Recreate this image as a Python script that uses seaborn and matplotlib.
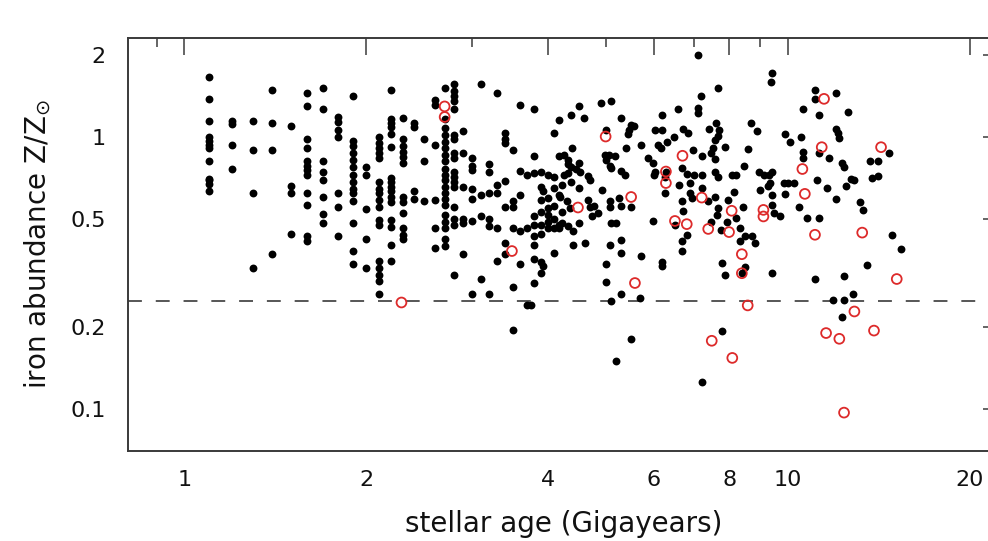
import matplotlib
matplotlib.use("Agg")
import matplotlib.pyplot as plt
import pandas as pd
import seaborn as sns
from matplotlib.ticker import FixedLocator, FixedFormatter, NullFormatter

# Young stars sit on a 0.1 Gyr age grid: one list of iron abundances per grid age
col_age = [1.1, 1.2, 1.3, 1.4, 1.5, 1.6, 1.7, 1.8, 1.9, 2.0,
           2.1, 2.2, 2.3, 2.4, 2.5, 2.6, 2.7, 2.8, 2.9]
col_z = [
    [1.66, 1.37, 1.14, 1.00, 0.965, 0.93, 0.91, 0.81, 0.70, 0.69, 0.67, 0.63],
    [1.14, 1.11, 0.93, 0.76],
    [1.14, 0.89, 0.62, 0.33],
    [1.48, 1.12, 0.89, 0.37],
    [1.09, 0.66, 0.62, 0.44],
    [1.45, 1.29, 0.98, 0.91, 0.81, 0.78, 0.755, 0.72, 0.62, 0.56, 0.43, 0.415],
    [1.51, 1.26, 0.81, 0.74, 0.69, 0.60, 0.52, 0.48],
    [1.18, 1.13, 1.06, 1.00, 0.62, 0.55, 0.43],
    [1.41, 0.96, 0.92, 0.87, 0.82, 0.77, 0.72, 0.68, 0.64, 0.62, 0.58, 0.48, 0.38, 0.34],
    [0.775, 0.72, 0.54, 0.42, 0.33],
    [1.00, 0.95, 0.91, 0.87, 0.835, 0.68, 0.64, 0.62, 0.585, 0.55, 0.495, 0.475,
     0.35, 0.33, 0.31, 0.295, 0.265],
    [1.48, 1.16, 1.12, 1.085, 1.02, 0.915, 0.705, 0.68, 0.655, 0.63, 0.60, 0.575,
     0.495, 0.465, 0.40, 0.35],
    [1.17, 0.98, 0.925, 0.88, 0.84, 0.80, 0.60, 0.575, 0.525, 0.46, 0.435, 0.42],
    [1.12, 1.085, 0.63, 0.59],
    [0.98, 0.815, 0.58],
    [1.36, 1.31, 0.93, 0.585, 0.46, 0.39],
    [1.51, 1.16, 1.075, 1.015, 0.955, 0.91, 0.855, 0.81, 0.76, 0.72, 0.69, 0.655,
     0.62, 0.59, 0.56, 0.515, 0.485, 0.46, 0.42, 0.395],
    [1.56, 1.47, 1.41, 1.35, 1.26, 1.015, 0.98, 0.87, 0.835, 0.74, 0.71, 0.68,
     0.655, 0.55, 0.50, 0.475, 0.31],
    [1.05, 0.87, 0.655, 0.50, 0.48, 0.37],
]

# Older stars (filled symbols): ages in Gyr and iron abundance Z/Zsun
old_age = [
    3.0, 3.0, 3.0, 3.0, 3.0, 3.0, 3.0, 3.1, 3.1, 3.1, 3.1, 3.2, 3.2, 3.2, 3.2, 3.2, 3.2,
    3.3, 3.3, 3.3, 3.3, 3.3, 3.4, 3.4, 3.4, 3.4, 3.4, 3.4, 3.4, 3.5, 3.5, 3.5, 3.5, 3.5, 3.5,
    3.6, 3.6, 3.6, 3.6, 3.6, 3.7, 3.7, 3.7, 3.76, 3.8, 3.8, 3.8, 3.8, 3.8, 3.8, 3.8, 3.8, 3.8,
    3.9, 3.9, 3.9, 3.9, 3.9, 3.9, 3.9, 3.9, 3.93, 3.93, 4.0, 4.0, 4.0, 4.0, 4.0, 4.0,
    4.1, 4.1, 4.1, 4.1, 4.1, 4.1, 4.1, 4.17, 4.17, 4.17, 4.17, 4.17, 4.2, 4.22, 4.22, 4.22, 4.26,
    4.25, 4.3, 4.32, 4.33, 4.33, 4.33, 4.35, 4.37, 4.38, 4.38, 4.39, 4.41, 4.41, 4.46, 4.5, 4.5, 4.5, 4.5, 4.52,
    4.6, 4.61, 4.66, 4.67, 4.7, 4.7, 4.73, 4.78, 4.85, 4.9, 4.92,
    4.99, 5.09, 5.29, 5.5, 5.55, 5.45, 5.44, 5.7, 5.39, 4.98, 5.06, 5.17, 5.0, 5.07, 5.1, 5.3, 5.37,
    5.07, 5.07, 5.25, 5.3, 5.5, 5.1, 5.2, 5.07, 5.3, 5.3, 5.0, 5.71, 5.0, 5.3, 5.1, 5.69, 5.5, 5.19,
    5.87, 5.97, 6.02, 6.0, 6.02, 6.18, 6.1, 6.17, 6.3, 6.18,
    6.58, 7.09, 7.09, 7.09, 7.18, 7.67, 6.71, 6.82, 6.48, 7.4, 7.6, 7.7, 7.67, 7.57, 7.53, 7.47, 7.57, 7.87,
    6.97, 7.2, 8.6, 8.69, 8.88, 8.47, 8.97, 9.12, 9.3, 9.4, 9.42, 9.37,
    6.67, 6.8, 7.0, 7.2, 7.57, 7.67, 8.07, 8.22,
    5.98, 6.25, 6.25, 6.28, 6.6, 6.67, 6.88, 6.88, 6.93, 6.71, 6.5, 6.8, 6.67, 6.69, 6.18, 6.18,
    7.2, 7.38, 7.57, 7.67, 7.62, 7.47, 7.92, 7.74, 7.96, 8.13, 8.44, 8.22, 8.33, 8.5, 8.33, 8.72, 8.82, 8.99, 9.28, 9.4,
    7.77, 7.87, 8.5, 8.39, 9.4, 7.79, 7.2,
    9.33, 9.85, 10.0, 10.25, 9.89, 9.4, 9.5, 9.7, 10.45, 10.75, 11.27,
    11.19, 11.6, 12.0, 12.49, 12.89, 13.16, 13.3, 13.8, 14.1, 14.9, 15.4, 13.5, 11.09, 12.4, 12.8, 11.9, 12.4, 12.3,
    11.09, 11.09, 12.0, 10.58, 11.27, 12.57, 12.0, 12.1, 12.15, 9.89, 10.1, 10.5, 10.58, 10.58, 11.27, 11.7,
    12.3, 12.4, 13.7, 14.1, 14.7, 12.7,
]
old_z = [
    0.835, 0.78, 0.755, 0.64, 0.59, 0.49, 0.265, 1.56, 0.61, 0.51, 0.30, 0.795, 0.74, 0.62, 0.50, 0.47, 0.265,
    1.45, 0.665, 0.62, 0.46, 0.35, 1.03, 0.98, 0.945, 0.685, 0.55, 0.405, 0.37, 0.89, 0.58, 0.55, 0.46, 0.28, 0.195,
    1.30, 0.745, 0.61, 0.45, 0.34, 0.72, 0.46, 0.24, 0.24, 1.26, 0.85, 0.735, 0.51, 0.475, 0.43, 0.40, 0.355, 0.29,
    0.74, 0.655, 0.585, 0.53, 0.475, 0.44, 0.345, 0.315, 0.63, 0.335, 0.72, 0.545, 0.515, 0.485, 0.46, 0.595,
    1.03, 0.71, 0.645, 0.555, 0.50, 0.46, 0.375, 1.15, 0.85, 0.61, 0.475, 0.46, 0.60, 0.665, 0.53, 0.48, 0.855,
    0.72, 0.58, 0.795, 0.82, 0.47, 0.735, 0.545, 0.68, 1.20, 0.775, 0.91, 0.45, 0.40, 0.76, 1.29, 0.645, 0.48, 0.80, 0.74,
    1.17, 0.405, 0.715, 0.585, 0.695, 0.55, 0.51, 0.555, 0.525, 1.33, 0.637,
    1.06, 1.35, 1.17, 1.10, 1.09, 1.06, 1.02, 0.93, 0.91, 0.855, 0.855, 0.85, 0.82, 0.78, 0.765, 0.745, 0.72,
    0.578, 0.553, 0.594, 0.558, 0.549, 0.48, 0.48, 0.40, 0.418, 0.373, 0.34, 0.363, 0.293, 0.264, 0.25, 0.255, 0.181, 0.15,
    0.833, 0.80, 0.744, 0.72, 1.06, 1.06, 0.93, 0.905, 0.958, 1.20,
    1.26, 2.0, 1.27, 1.22, 1.41, 1.51, 1.07, 1.03, 0.995, 1.07, 1.125, 1.06, 1.006, 0.972, 0.906, 0.869, 0.826, 0.914,
    0.894, 0.85, 0.899, 1.125, 1.05, 0.78, 0.744, 0.723, 0.723, 0.744, 1.71, 1.59,
    0.766, 0.728, 0.723, 0.723, 0.744, 0.713, 0.723, 0.723,
    0.49, 0.713, 0.62, 0.744, 0.665, 0.578, 0.675, 0.62, 0.594, 0.531, 0.474, 0.436, 0.412, 0.379, 0.346, 0.336,
    0.647, 0.578, 0.60, 0.546, 0.516, 0.487, 0.487, 0.455, 0.586, 0.628, 0.553, 0.502, 0.461, 0.43, 0.412, 0.43, 0.406, 0.637, 0.656, 0.611,
    0.343, 0.311, 0.333, 0.315, 0.315, 0.194, 0.126,
    0.675, 0.675, 0.675, 0.675, 0.616, 0.562, 0.523, 0.511, 0.549, 0.502, 0.502,
    0.693, 0.647, 0.589, 0.66, 0.693, 0.576, 0.538, 0.703, 0.717, 0.436, 0.387, 0.338, 0.30, 0.309, 0.264, 0.251, 0.251, 0.217,
    1.48, 1.375, 1.45, 1.26, 1.20, 1.23, 1.07, 1.03, 0.99, 1.02, 0.958, 1.0, 0.874, 0.833, 0.869, 0.833,
    0.80, 0.776, 0.816, 0.816, 0.869, 0.70,
]

# Second sample (open red circles)
open_age = [2.7, 2.7, 2.29, 3.49, 4.99, 6.69, 6.28, 6.28, 4.49, 5.50, 5.58, 7.2, 8.07,
            6.5, 6.8, 7.38, 7.99, 8.39, 8.39, 9.11, 9.11, 8.58, 11.48, 11.38, 14.27,
            10.57, 10.67, 11.09, 13.28, 15.15, 12.89, 11.57, 12.17, 13.89, 12.39, 7.48, 8.09]
open_z = [1.29, 1.18, 0.246, 0.38, 1.0, 0.85, 0.744, 0.675, 0.549, 0.60, 0.29, 0.597, 0.534,
          0.49, 0.477, 0.458, 0.446, 0.37, 0.315, 0.538, 0.509, 0.24, 1.375, 0.914, 0.914,
          0.76, 0.616, 0.436, 0.444, 0.30, 0.228, 0.19, 0.181, 0.194, 0.097, 0.178, 0.154]

# Reference abundance level (dashed line)
z_cut = 0.25

x_major = [1, 2, 4, 6, 8, 10, 20]
x_minor = [0.9, 3, 5, 7, 9]
y_major = [0.1, 0.2, 0.5, 1, 2]
y_minor = [0.08, 0.09, 0.3, 0.4, 0.6, 0.7, 0.8, 0.9]

# ---- assemble tables ----
grid_rows = [(a, z) for a, zs in zip(col_age, col_z) for z in zs]
filled = pd.DataFrame(grid_rows + list(zip(old_age, old_z)), columns=["age", "z"])
hollow = pd.DataFrame({"age": open_age, "z": open_z})

sns.set_theme(style="white")
plt.rcParams["font.family"] = ["DejaVu Sans"]
plt.rcParams["lines.scale_dashes"] = False

axis_col = "#3a3a3a"
red = "#dd2a2a"

fig = plt.figure(figsize=(9.88, 5.41), dpi=100)
ax = fig.add_axes([0.1293, 0.1669, 0.8828, 0.7629])
ax.set_xscale("log")
ax.set_yscale("log")

sns.scatterplot(data=filled, x="age", y="z", color="black", s=32,
                linewidth=0, ax=ax, legend=False, zorder=3)
sns.scatterplot(data=hollow, x="age", y="z", s=50, ax=ax, legend=False, zorder=4)
pts = ax.collections[-1]
pts.set_facecolor("none")
pts.set_edgecolor(red)
pts.set_linewidth(1.3)

ax.axhline(z_cut, color=axis_col, lw=1.2, dashes=(10, 10), zorder=2)

ax.set_xlim(0.806, 22.46)
ax.set_ylim(0.0703, 2.30)

ax.xaxis.set_major_locator(FixedLocator(x_major))
ax.xaxis.set_major_formatter(FixedFormatter([str(v) for v in x_major]))
ax.xaxis.set_minor_locator(FixedLocator(x_minor))
ax.xaxis.set_minor_formatter(NullFormatter())
ax.yaxis.set_major_locator(FixedLocator(y_major))
ax.yaxis.set_major_formatter(FixedFormatter([f"{v:g}" for v in y_major]))
ax.yaxis.set_minor_locator(FixedLocator(y_minor))
ax.yaxis.set_minor_formatter(NullFormatter())

ax.tick_params(which="both", direction="in", top=True, right=True,
               color=axis_col, width=1.1, labelcolor="#111111")
ax.tick_params(which="major", length=12.5, labelsize=16)
ax.tick_params(axis="x", which="major", pad=14)
ax.tick_params(axis="y", which="major", pad=16)
ax.tick_params(which="minor", length=6.5)

for sp in ax.spines.values():
    sp.set_color(axis_col)
    sp.set_linewidth(1.4)

ax.set_xlabel("stellar age (Gigayears)", fontsize=20, color="#111111", labelpad=14)
ax.set_ylabel(r"iron abundance Z/Z$_{\odot}$", fontsize=20, color="#111111", labelpad=12)

fig.savefig("out.png", dpi=100)
